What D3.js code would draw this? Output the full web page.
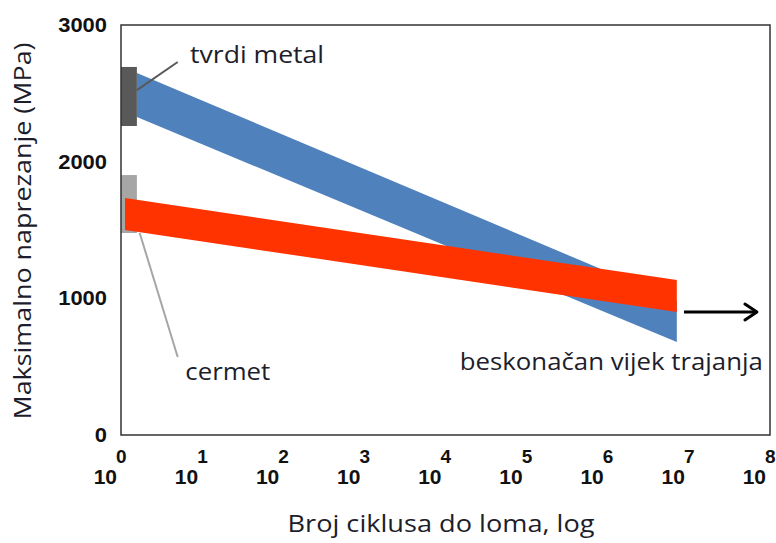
<!DOCTYPE html>
<html lang="hr">
<head>
  <meta charset="UTF-8">
  <title>Maksimalno naprezanje – broj ciklusa</title>
  <script src="https://cdnjs.cloudflare.com/ajax/libs/d3/7.8.5/d3.min.js"></script>
  <style>
    body { margin: 0; padding: 0; background: #fff; }
    svg { display: block; }
    .tick-lbl { font-family: "Liberation Sans", Arial, sans-serif; font-weight: bold; fill: #111; }
    .note { font-family: "Open Sans", "Noto Sans", sans-serif; fill: #1d1d2b; }
  </style>
</head>
<body>
<svg id="chart" width="776" height="543"></svg>
<script>
  // y axis ticks (MPa) and x axis exponents (10^k cycles)
  const yTicks = [0, 1000, 2000, 3000];
  const xExps = [0, 1, 2, 3, 4, 5, 6, 7, 8];

  // bands: [cycles, upper MPa, lower MPa] at start and end
  const tvrdiBand = [[1.57, 2649, 2327], [7.1e6, 980, 680]];
  const cermetBand = [[1.12, 1734, 1500], [7.1e6, 1134, 900]];

  // grey start markers: [cycles from, cycles to, MPa top, MPa bottom]
  const tvrdiMarker = [1, 1.57, 2693, 2261];
  const cermetMarker = [1, 1.57, 1902, 1478];

  // leader lines [cycles, MPa] pairs
  const tvrdiLeader = [[1.57, 2524], [5.0, 2729]];
  const cermetLeader = [[1.7, 1478], [5.0, 571]];

  // arrow for "infinite life"
  const arrowPts = [[8.7e6, 900], [6.9e7, 900]];

  // labels: text, cycles, MPa (baseline), width
  const notes = [
    ["tvrdi metal", 7.1, 2722, 134],
    ["cermet", 6.2, 402, 85],
    ["beskonačan vijek trajanja", 15000, 476, 303]
  ];

  const svg = d3.select("#chart");
  const x = d3.scaleLog().domain([1, 1e8]).range([121, 770]);
  const y = d3.scaleLinear().domain([0, 3000]).range([435, 25]);

  function band(b, color) {
    const pts = [[b[0][0], b[0][1]], [b[1][0], b[1][1]], [b[1][0], b[1][2]], [b[0][0], b[0][2]]];
    svg.append("path")
      .attr("d", d3.line().x(d => x(d[0])).y(d => y(d[1]))(pts) + "Z")
      .attr("fill", color);
  }
  function marker(m, color) {
    svg.append("rect")
      .attr("x", x(m[0]))
      .attr("y", y(m[2]))
      .attr("width", x(m[1]) - x(m[0]))
      .attr("height", y(m[3]) - y(m[2]))
      .attr("fill", color);
  }
  function leader(l, color) {
    svg.append("line")
      .attr("x1", x(l[0][0])).attr("y1", y(l[0][1]))
      .attr("x2", x(l[1][0])).attr("y2", y(l[1][1]))
      .attr("stroke", color).attr("stroke-width", 2);
  }

  // bands and markers
  band(tvrdiBand, "#4f81bd");
  marker(tvrdiMarker, "#595959");
  marker(cermetMarker, "#a6a6a6");
  band(cermetBand, "#ff3300");
  leader(tvrdiLeader, "#595959");
  leader(cermetLeader, "#a6a6a6");

  // plot frame
  svg.append("rect")
    .attr("x", x.range()[0]).attr("y", y.range()[1])
    .attr("width", x.range()[1] - x.range()[0])
    .attr("height", y.range()[0] - y.range()[1])
    .attr("fill", "none").attr("stroke", "#333").attr("stroke-width", 1.5);

  // arrow
  const ax1 = x(arrowPts[0][0]), ax2 = x(arrowPts[1][0]), ay = y(arrowPts[0][1]);
  svg.append("line")
    .attr("x1", ax1).attr("x2", ax2).attr("y1", ay).attr("y2", ay)
    .attr("stroke", "#000").attr("stroke-width", 3);
  svg.append("path")
    .attr("d", `M${ax2 - 12},${ay - 8} L${ax2},${ay} L${ax2 - 12},${ay + 8}`)
    .attr("fill", "none").attr("stroke", "#000").attr("stroke-width", 3)
    .attr("stroke-linejoin", "round").attr("stroke-linecap", "round");

  // y tick labels
  svg.selectAll(".ylbl").data(yTicks).join("text")
    .attr("class", "tick-lbl")
    .attr("x", 107)
    .attr("y", d => y(d) + 7)
    .attr("text-anchor", "end")
    .attr("font-size", 20)
    .attr("textLength", d => String(d).length * 12.2)
    .attr("lengthAdjust", "spacingAndGlyphs")
    .text(d => d);

  // x tick labels: 10 with superscript exponent
  const xl = svg.selectAll(".xlbl").data(xExps).join("g");
  xl.append("text")
    .attr("class", "tick-lbl")
    .attr("x", d => x(Math.pow(10, d)) - 4)
    .attr("y", 484)
    .attr("text-anchor", "end")
    .attr("font-size", 21)
    .text("10");
  xl.append("text")
    .attr("class", "tick-lbl")
    .attr("x", d => x(Math.pow(10, d)) - 5)
    .attr("y", 463)
    .attr("font-size", 19)
    .text(d => d);

  // annotations
  svg.selectAll(".nt").data(notes).join("text")
    .attr("class", "note")
    .attr("x", d => x(d[1]))
    .attr("y", d => y(d[2]))
    .attr("font-size", 23)
    .attr("textLength", d => d[3])
    .attr("lengthAdjust", "spacingAndGlyphs")
    .text(d => d[0]);

  // axis titles
  svg.append("text")
    .attr("class", "note")
    .attr("transform", "translate(31,231) rotate(-90)")
    .attr("text-anchor", "middle")
    .attr("font-size", 23)
    .attr("textLength", 377)
    .attr("lengthAdjust", "spacingAndGlyphs")
    .text("Maksimalno naprezanje (MPa)");
  svg.append("text")
    .attr("class", "note")
    .attr("x", 441)
    .attr("y", 532)
    .attr("text-anchor", "middle")
    .attr("font-size", 23)
    .attr("textLength", 307)
    .attr("lengthAdjust", "spacingAndGlyphs")
    .text("Broj ciklusa do loma, log");
</script>
</body>
</html>
